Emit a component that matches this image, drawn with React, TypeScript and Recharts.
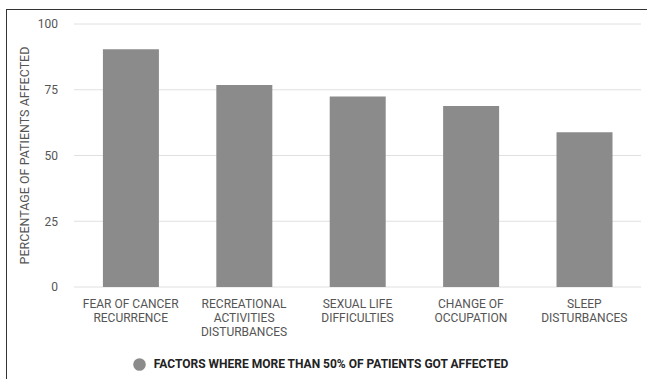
import React from 'react';
import { BarChart, Bar, XAxis, YAxis, CartesianGrid, Legend } from 'recharts';

// factors where more than half of patients got affected
const categories = [
    'FEAR OF CANCER\nRECURRENCE',
    'RECREATIONAL\nACTIVITIES\nDISTURBANCES',
    'SEXUAL LIFE\nDIFFICULTIES',
    'CHANGE OF\nOCCUPATION',
    'SLEEP\nDISTURBANCES',
];
const percentages = [90.4, 76.8, 72.4, 68.8, 58.8];
const yTicks = [0, 25, 50, 75, 100];
const seriesName = 'FACTORS WHERE MORE THAN 50% OF PATIENTS GOT AFFECTED';

const data = categories.map((name, i) => ({ name, value: percentages[i] }));

const FONT = 'Roboto, "Noto Sans", Arial, sans-serif';
const BAR_COLOR = '#8b8b8b';

const CategoryTick = (props: any) => {
    const { x, y, payload } = props;
    const lines = String(payload.value).split('\n');
    return (
        <text x={x} y={y} textAnchor="middle" fill="#555" fontSize={12} fontFamily={FONT}>
            {lines.map((line, i) => (
                <tspan key={i} x={x} dy={i === 0 ? 13 : 14}>{line}</tspan>
            ))}
        </text>
    );
};

const YLabel = (props: any) => {
    const { viewBox } = props;
    const cx = viewBox.x + 24;
    const cy = viewBox.y + viewBox.height / 2;
    return (
        <text x={cx} y={cy} transform={`rotate(-90, ${cx}, ${cy})`} textAnchor="middle"
            dominantBaseline="central" fill="#555" fontSize={12.5} fontFamily={FONT}>
            PERCENTAGE OF PATIENTS AFFECTED
        </text>
    );
};

const LegendContent = () => (
    <div style={{ height: 24, display: 'flex', alignItems: 'center', justifyContent: 'center', fontFamily: FONT }}>
        <svg width={13} height={13} style={{ marginRight: 8 }}>
            <circle cx={6.5} cy={6.5} r={6.3} fill={BAR_COLOR} />
        </svg>
        <span style={{ fontSize: 12, fontWeight: 700, color: '#222' }}>{seriesName}</span>
    </div>
);

const App: React.FC = () => {
    return (
        <div style={{ position: 'fixed', left: 0, top: 0, width: 647, height: 379, background: '#fff' }}>
            <BarChart width={647} height={379} data={data}
                margin={{ top: 24, right: 6, left: 0, bottom: 3 }} barCategoryGap="25.5%">
                <CartesianGrid vertical={false} stroke="#e0e0e0" />
                <XAxis dataKey="name" axisLine={false} tickLine={false} interval={0}
                    height={65} tick={<CategoryTick />} />
                <YAxis domain={[0, 100]} ticks={yTicks} width={74} axisLine={false} tickLine={false}
                    tickMargin={10} tick={{ fill: '#555', fontSize: 12, fontFamily: FONT }}
                    label={<YLabel />} />
                <Legend verticalAlign="bottom" content={<LegendContent />} wrapperStyle={{ height: 24 }} />
                <Bar dataKey="value" fill={BAR_COLOR} isAnimationActive={false} />
            </BarChart>
            {/* frame of the original figure */}
            <div style={{ position: 'absolute', left: 6, top: 9, width: 1, height: 370, background: '#333' }} />
            <div style={{ position: 'absolute', left: 6, top: 9, width: 641, height: 1, background: '#333' }} />
        </div>
    );
};

export default App;
